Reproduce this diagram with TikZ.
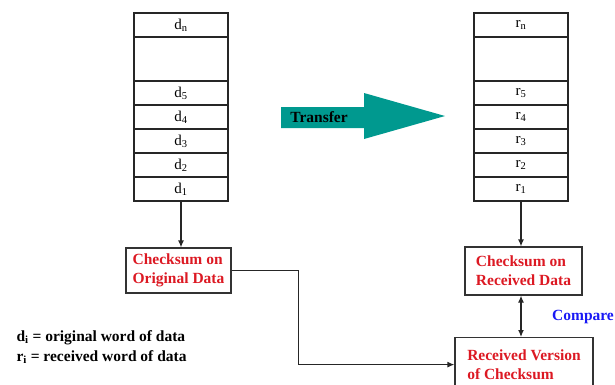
\documentclass[tikz,border=0pt]{standalone}
\usepackage{fontspec}
\setmainfont{Liberation Serif}
\usetikzlibrary{arrows.meta}
\usetikzlibrary{positioning}
\definecolor{sumred}{RGB}{220,25,35}
\definecolor{cmpblue}{RGB}{25,25,245}
\definecolor{xferteal}{RGB}{0,153,143}
\tikzstyle{cell} = [rectangle, minimum width=94pt, minimum height=24pt, inner sep=0pt, outer sep=0pt, draw=black!85, line width=1.2pt, font=\fontsize{15}{17}\selectfont]
\tikzstyle{sumbox} = [rectangle, draw=black!80, line width=1.2pt, align=left, text=sumred, font=\fontsize{15.5}{19}\selectfont\bfseries]
\tikzstyle{link} = [draw=black!85, line width=1.2pt, -{Latex[length=7pt,width=6pt]}]

\begin{document}
\begin{tikzpicture}[x=1pt, y=-1pt, node distance=0pt]
\useasboundingbox (0,0) rectangle (615,384);

% sent data words
\node (d1) [cell] at (181,189) {d\textsubscript{1}};
\foreach \i/\j in {2/1,3/2,4/3,5/4}
  \node (d\i) [cell, above=of d\j] {d\textsubscript{\i}};
\node (dgap) [cell, minimum height=44pt, above=of d5] {};
\node (dn) [cell, above=of dgap] {d\textsubscript{n}};

% received data words
\node (r1) [cell] at (521,189) {r\textsubscript{1}};
\foreach \i/\j in {2/1,3/2,4/3,5/4}
  \node (r\i) [cell, above=of r\j] {r\textsubscript{\i}};
\node (rgap) [cell, minimum height=44pt, above=of r5] {};
\node (rn) [cell, above=of rgap] {r\textsubscript{n}};

% transfer arrow
\fill [xferteal] (281,107) -- (364,107) -- (364,93) -- (445,116) -- (364,139) -- (364,128) -- (281,128) -- cycle;
\node (transfer) at (319,117) {\fontsize{15.5}{19}\selectfont\bfseries Transfer};

% checksums
\node (origsum) [sumbox, minimum width=105pt, minimum height=45pt] at (178.5,270.5) {Checksum on\\Original Data};
\node (recvsum) [sumbox, minimum width=117pt, minimum height=48pt] at (523.5,271) {Checksum on\\Received Data};
\node (recvver) [sumbox, minimum width=138pt, minimum height=54pt, anchor=north] at (524,337) {Received Version\\of Checksum};
\node (compare) at (583,317) {\fontsize{15.5}{19}\selectfont\bfseries\color{cmpblue}Compare};

\node (legend) [anchor=west, align=left, font=\fontsize{15.5}{20}\selectfont\bfseries] at (13,347) {d\textsubscript{i} = original word of data\\r\textsubscript{i} = received word of data};

\draw [link] (d1.south) -- (d1.south |- origsum.north);
\draw [link] (r1.south) -- (r1.south |- recvsum.north);
\draw [link] (origsum.east) -- ++(67,0) |- (recvver.west);
\draw [link, {Latex[length=7pt,width=6pt]}-{Latex[length=7pt,width=6pt]}] (recvsum.south -| r1.south) -- (recvver.north -| r1.south);
\end{tikzpicture}
\end{document}
